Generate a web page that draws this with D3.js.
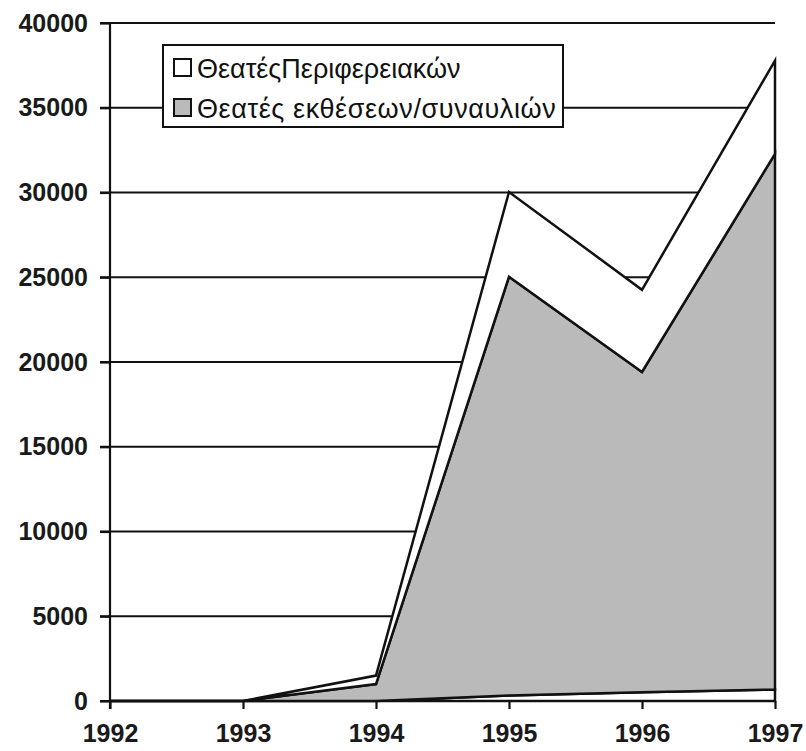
<!DOCTYPE html>
<html>
<head>
<meta charset="utf-8">
<script src="https://cdn.jsdelivr.net/npm/d3@7"></script>
<style>
  body { margin: 0; background: #fff; }
  svg { display: block; font-family: "Liberation Sans", Arial, sans-serif; }
</style>
</head>
<body>
<div id="chart"></div>
<script>
// data
const years = [1992, 1993, 1994, 1995, 1996, 1997];
const baseViewers = [0, 0, 0, 330, 510, 680];          // thin strip at the bottom
const exhibitionViewers = [0, 0, 1000, 24700, 18900, 31600];
const regionalViewers = [0, 0, 500, 5000, 4850, 5500];
const yTicks = [0, 5000, 10000, 15000, 20000, 25000, 30000, 35000, 40000];
const legendLabels = ["ΘεατέςΠεριφερειακών", "Θεατές εκθέσεων/συναυλιών"];

const width = 806, height = 751;
const gray = "#bababa";

const rows = years.map((yr, i) => ({
  year: yr,
  base: baseViewers[i],
  exhib: exhibitionViewers[i],
  regional: regionalViewers[i]
}));

const svg = d3.select("#chart").append("svg")
  .attr("width", width)
  .attr("height", height);

svg.append("rect").attr("width", width).attr("height", height).attr("fill", "#fff");

const x = d3.scaleLinear().domain([1992, 1997]).range([110, 775]);
const y = d3.scaleLinear().domain([0, 40000]).range([701, 23]);

//gridlines (behind the areas)
svg.append("g")
  .selectAll("line")
  .data(yTicks)
  .join("line")
  .attr("x1", 100)
  .attr("x2", x(1997))
  .attr("y1", d => y(d))
  .attr("y2", d => y(d))
  .attr("stroke", "#111")
  .attr("stroke-width", 2.2);

//stacked areas
const stack = d3.stack().keys(["base", "exhib", "regional"]);
const layers = stack(rows);
const fills = { base: "#fff", exhib: gray, regional: "#fff" };

const area = d3.area()
  .x(d => x(d.data.year))
  .y0(d => y(d[0]))
  .y1(d => y(d[1]));

svg.append("g")
  .selectAll("path")
  .data(layers)
  .join("path")
  .attr("d", area)
  .attr("fill", d => fills[d.key])
  .attr("stroke", "#111")
  .attr("stroke-width", 2.5)
  .attr("stroke-linejoin", "miter");

//y axis
const yAxis = svg.append("g")
  .attr("transform", `translate(${x(1992)},0)`)
  .call(d3.axisLeft(y).tickValues(yTicks).tickFormat(d3.format("d")).tickSize(10).tickPadding(12).tickSizeOuter(0));
yAxis.select(".domain").attr("d", `M0,${y(40000)}V${y(0) + 8}`).attr("stroke", "#111").attr("stroke-width", 2.2);
yAxis.selectAll(".tick line").attr("stroke", "#111").attr("stroke-width", 2.2);
yAxis.selectAll(".tick text")
  .attr("fill", "#1a1a1a")
  .style("font-size", "25px")
  .style("font-weight", "bold");

//x axis
const xAxis = svg.append("g")
  .attr("transform", `translate(0,${y(0)})`)
  .call(d3.axisBottom(x).tickValues(years).tickFormat(d3.format("d")).tickSize(8).tickPadding(15).tickSizeOuter(0));
xAxis.select(".domain").remove();
xAxis.selectAll(".tick line").attr("stroke", "#111").attr("stroke-width", 2.2);
xAxis.selectAll(".tick text")
  .attr("fill", "#1a1a1a")
  .style("font-size", "25px")
  .style("font-weight", "bold");

//legend
const legend = svg.append("g");
legend.append("rect")
  .attr("x", 163).attr("y", 45)
  .attr("width", 400).attr("height", 82)
  .attr("fill", "#fff")
  .attr("stroke", "#111")
  .attr("stroke-width", 2);

const legendFills = ["#fff", gray];
legendLabels.forEach((label, i) => {
  legend.append("text")
    .attr("x", 197).attr("y", 78 + i * 40)
    .attr("fill", "#111")
    .style("font-size", "27px")
    .style("font-weight", 500)
    .style("letter-spacing", i === 1 ? "0.6px" : "0px")
    .text(label);
  legend.append("rect")
    .attr("x", 174).attr("y", 59 + i * 40)
    .attr("width", 17).attr("height", 17)
    .attr("fill", legendFills[i])
    .attr("stroke", "#111")
    .attr("stroke-width", 2);
});
</script>
</body>
</html>
